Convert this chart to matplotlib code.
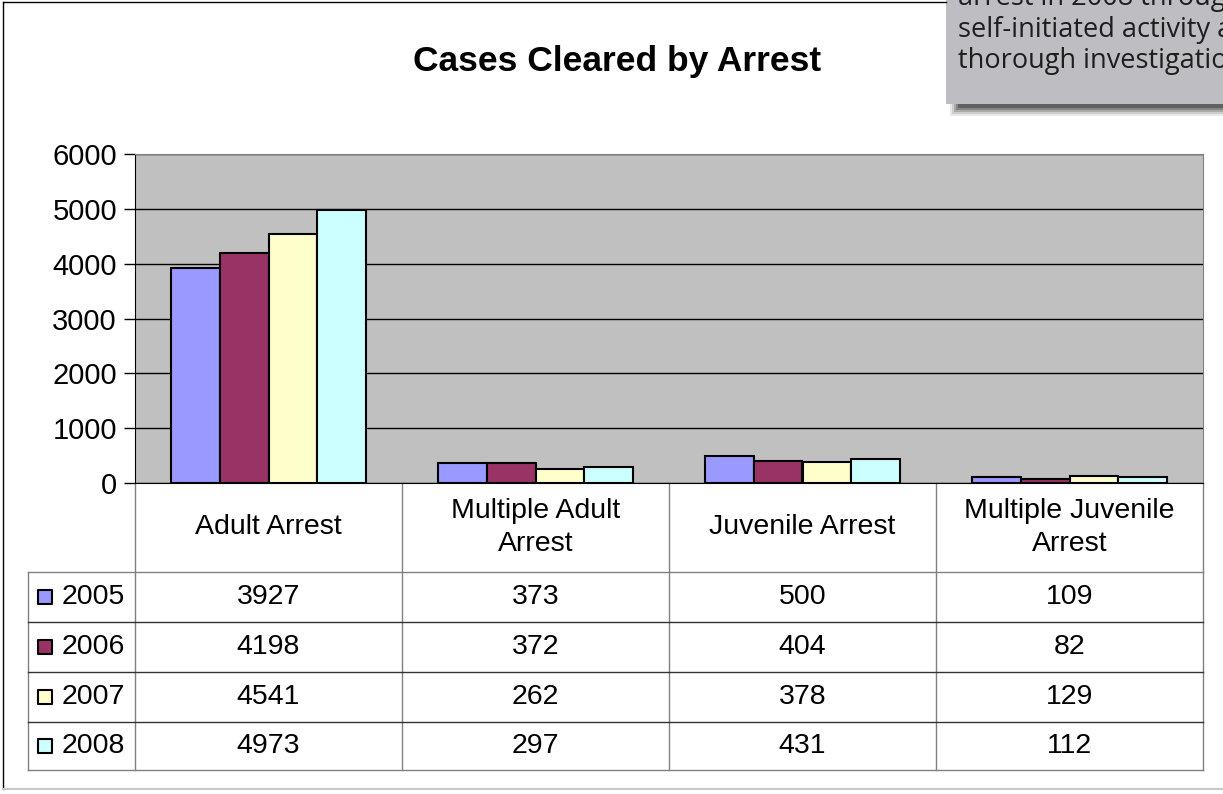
import numpy as np
import matplotlib
matplotlib.use('Agg')
from matplotlib import pyplot as plt
from matplotlib import transforms as mtransforms
from matplotlib.lines import Line2D
from matplotlib.patches import Rectangle

categories = ['Adult Arrest', 'Multiple Adult\nArrest', 'Juvenile Arrest', 'Multiple Juvenile\nArrest']
years = ['2005', '2006', '2007', '2008']
v2005 = [3927, 373, 500, 109]
v2006 = [4198, 372, 404, 82]
v2007 = [4541, 262, 378, 129]
v2008 = [4973, 297, 431, 112]
series = [v2005, v2006, v2007, v2008]
colors = ['#9999FF', '#993366', '#FFFFCC', '#CCFFFF']
yticks = [0, 1000, 2000, 3000, 4000, 5000, 6000]
callout_lines = ['arrest in 2008 through', 'self-initiated activity and', 'thorough investigation.']

W, H = 1223, 794
plt.rcParams['font.family'] = ['Liberation Sans', 'DejaVu Sans']

fig = plt.figure(figsize=(W / 100, H / 100), dpi=100)


def fx(px):
    return px / W


def fy(py):
    return 1 - py / H


ax = fig.add_axes([fx(135), fy(483), fx(1203) - fx(135), fy(154) - fy(483)])
ax.set_facecolor('#C0C0C0')

x = np.arange(len(categories))
w = 0.182
for i, vals in enumerate(series):
    ax.bar(x + (i - 1.5) * w, vals, w, color=colors[i], edgecolor='black',
           linewidth=1.5, zorder=3)

ax.set_xlim(-0.5, len(categories) - 0.5)
ax.set_ylim(0, 6000)
ax.set_yticks(yticks)
ax.set_yticklabels([str(t) for t in yticks], fontsize=21)
ax.set_xticks([])
ax.tick_params(axis='y', direction='out', length=8, width=1, pad=5)
ax.yaxis.grid(True, color='black', linewidth=1)
ax.set_axisbelow(True)
for s in ['top', 'right']:
    ax.spines[s].set_color('#808080')
for s in ['left', 'bottom']:
    ax.spines[s].set_color('black')

# data table under the plot
trans = mtransforms.blended_transform_factory(ax.transData, ax.transAxes)
axh = 483 - 154


def ay(py):
    return (483 - py) / axh


rows = [483, 572, 622, 672, 722, 770]
left = -0.5 - 107 / 267
grey = '#808080'
for k in range(len(categories) + 1):
    ax.plot([k - 0.5, k - 0.5], [ay(483), ay(770)], color=grey, lw=1,
            transform=trans, clip_on=False)
ax.plot([left, left], [ay(572), ay(770)], color=grey, lw=1, transform=trans, clip_on=False)
for r in rows[1:]:
    c = grey if r in (572, 770) else '#333333'
    ax.plot([left, len(categories) - 0.5], [ay(r), ay(r)], color=c, lw=1,
            transform=trans, clip_on=False)

for k, cat in enumerate(categories):
    ax.text(k, ay((483 + 572) / 2), cat, ha='center', va='center', fontsize=20.5,
            linespacing=1.38, transform=trans, clip_on=False)

for i, vals in enumerate(series):
    yc = ay((rows[i + 1] + rows[i + 2]) / 2)
    ax.scatter([left + 17 / 267], [yc], s=110, marker='s', color=colors[i],
               edgecolor='black', linewidth=1.5, transform=trans, clip_on=False, zorder=5)
    ax.text(left + 34 / 267, yc, years[i], ha='left', va='center', fontsize=20.5,
            transform=trans, clip_on=False)
    for k, v in enumerate(vals):
        ax.text(k, yc, str(v), ha='center', va='center', fontsize=20.5,
                transform=trans, clip_on=False)

fig.text(fx(617), fy(61), 'Cases Cleared by Arrest', ha='center', va='center',
         fontsize=25.5, fontweight='bold')

# chart frame
fig.add_artist(Line2D([fx(3), fx(3)], [fy(2), fy(789)], color='black', lw=1))
fig.add_artist(Line2D([fx(3), fx(946)], [fy(2), fy(2)], color='black', lw=1))
fig.add_artist(Line2D([fx(3), fx(1223)], [fy(789), fy(789)], color='#C8C8C8', lw=1.5))

# callout box with shadow
for k, a in enumerate([0.10, 0.15, 0.22, 0.30, 0.42]):
    off = 12 - k * 2
    fig.add_artist(Rectangle((fx(946 + 16 - off), fy(104 + off)), fx(400), fy(0) - fy(104),
                             color='#303030', alpha=a, lw=0))
fig.add_artist(Rectangle((fx(946), fy(104)), fx(400), fy(-10) - fy(104),
                         facecolor='#BEBEC2', edgecolor='none'))
for j, line in enumerate(callout_lines):
    fig.text(fx(958), fy(5 + 31.5 * j), line, ha='left', va='baseline', fontsize=19.5,
             color='#1e1e1e', family=['Open Sans', 'DejaVu Sans'])

fig.savefig('out.png', dpi=100)
